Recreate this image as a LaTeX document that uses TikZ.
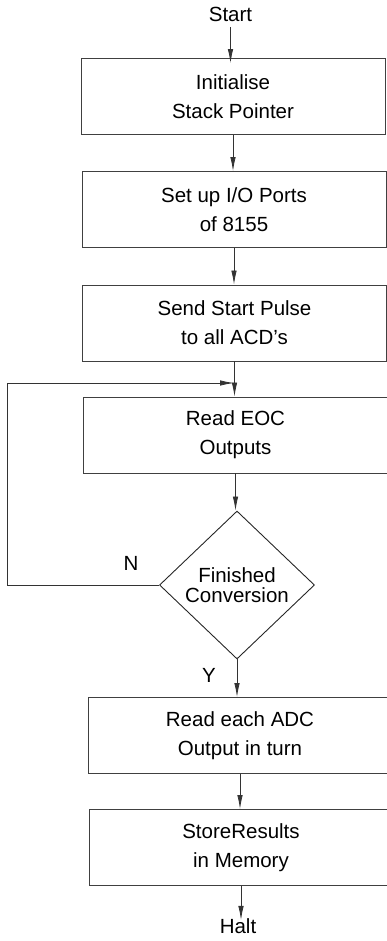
\documentclass[tikz,border=0pt]{standalone}
\usepackage{fontspec}
\setmainfont{Liberation Sans}
\usetikzlibrary{shapes.geometric,arrows.meta}
\begin{document}
\begin{tikzpicture}[x=1pt,y=-1pt,
  every node/.style={font=\fontsize{20.5}{29}\selectfont, text=black},
  box/.style={draw=black!75, line width=0.9pt, rectangle, minimum width=304pt, minimum height=76pt, align=center, inner sep=0pt},
  dec/.style={draw=black!85, line width=0.9pt, diamond, minimum width=155pt, minimum height=148pt, inner sep=0pt, align=center, font=\fontsize{20.5}{20.5}\selectfont},
  term/.style={inner sep=0pt, anchor=base},
  lab/.style={inner sep=0pt},
  arr/.style={draw=black!80, line width=0.8pt, -{Latex[length=14pt,width=5.5pt]}},
  ln/.style={draw=black!70, line width=0.8pt}
]
\useasboundingbox (0,0) rectangle (387,941);
\node[term] (start) at (230.5,22) {Start};
\node[box] (b1) at (233,96.5) {Initialise\\Stack Pointer};
\node[box] (b2) at (234,209.5) {Set up I/O Ports\\of 8155};
\node[box] (b3) at (234.5,323) {Send Start Pulse\\to all ACD's};
\node[box] (b4) at (235.5,435) {Read EOC\\Outputs};
\node[dec] (dia) at (237,585) {Finished\\Conversion};
\node[box] (b5) at (240,735.5) {Read each ADC\\Output in turn};
\node[box] (b6) at (241,847.5) {StoreResults\\in Memory};
\node[term] (halt) at (238,933) {Halt};
\node[lab] (nlab) at (131,563) {N};
\node[lab] (ylab) at (209,675) {Y};
\coordinate (lc) at (7,383);
\coordinate (lp) at (234,383);
\draw[arr] ([yshift=-5pt]start.south) -- ([yshift=-5pt]start.south |- b1.north);
\draw[arr] (b1.south) -- (b1.south |- b2.north);
\draw[arr] (b2.south) -- (b2.south |- b3.north);
\draw[arr] (b3.south) -- (b3.south |- b4.north);
\draw[arr] (b4.south) -- (b4.south |- dia.north);
\draw[arr] (dia.south) -- (dia.south |- b5.north);
\draw[arr] (b5.south) -- (b5.south |- b6.north);
\draw[arr] (b6.south) -- ([yshift=-2pt]b6.south |- halt.north);
\draw[arr] (dia.west) -| (lc) -- (lp);
\end{tikzpicture}
\end{document}
